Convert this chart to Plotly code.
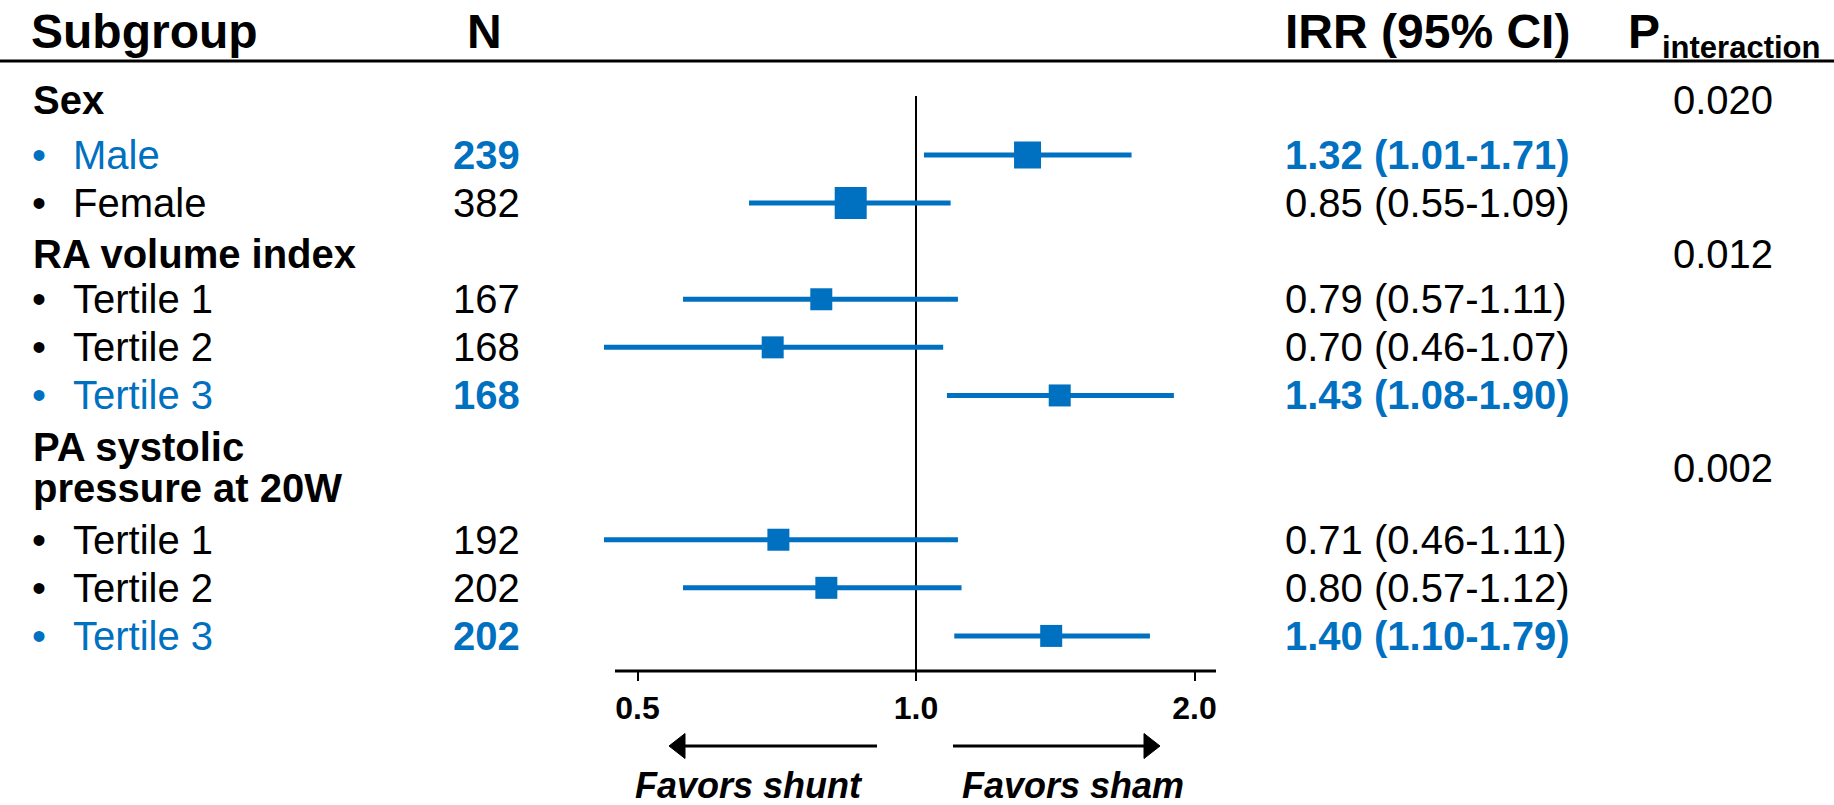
import plotly.graph_objects as go

# ---------------- data ----------------
subgroups = ["Male", "Female", "Tertile 1", "Tertile 2", "Tertile 3",
             "Tertile 1", "Tertile 2", "Tertile 3"]
n_values = [239, 382, 167, 168, 168, 192, 202, 202]
irr = [1.32, 0.85, 0.79, 0.70, 1.43, 0.71, 0.80, 1.40]
ci_low = [1.02, 0.66, 0.56, 0.46, 1.08, 0.46, 0.56, 1.10]
ci_high = [1.71, 1.09, 1.11, 1.07, 1.90, 1.11, 1.12, 1.79]
irr_text = ["1.32 (1.01-1.71)", "0.85 (0.55-1.09)", "0.79 (0.57-1.11)",
            "0.70 (0.46-1.07)", "1.43 (1.08-1.90)", "0.71 (0.46-1.11)",
            "0.80 (0.57-1.12)", "1.40 (1.10-1.79)"]
significant = [True, False, False, False, True, False, False, True]
row_pos = [1, 2, 4, 5, 6, 9, 10, 11]
group_labels = ["Sex", "RA volume index", "PA systolic\npressure at 20W"]
group_rows = [-0.15, 3.05, 7.5]
p_interaction = ["0.020", "0.012", "0.002"]
tick_vals = [0.5, 1.0, 2.0]
tick_labels = ["0.5", "1.0", "2.0"]
header_labels = ["Subgroup", "N", "IRR (95% CI)"]
favor_labels = ["Favors shunt", "Favors sham"]

# ---------------- styles ----------------
W, H = 1834, 805
BLUE = "#0070C0"
FONT = "Liberation Sans, Arial, Helvetica, sans-serif"
marker_sizes = [27, 32, 22, 22, 22, 22, 22, 22]


def px(x):
    return x / W


def py(y):
    return 1 - y / H


ROW_TOP, ROW_BOTTOM = -2.223, 14.516  # row units at top/bottom of figure
X_LEFT_PX, X_RIGHT_PX = 580, 1250     # plot-area extent in pixels
ONE_PX, PX_PER_LOG10 = 916, 278.5 / 0.30103

fig = go.Figure()

# reference line at IRR = 1
fig.add_trace(go.Scatter(
    x=[1, 1], y=[-0.227, 11.73], mode="lines",
    line=dict(color="black", width=2), hoverinfo="skip", showlegend=False))

# estimates with CI
fig.add_trace(go.Scatter(
    x=irr, y=row_pos, mode="markers",
    marker=dict(symbol="square", size=marker_sizes, color=BLUE, opacity=1,
                line=dict(width=0)),
    error_x=dict(type="data", symmetric=False,
                 array=[h - m for h, m in zip(ci_high, irr)],
                 arrayminus=[m - l for m, l in zip(irr, ci_low)],
                 color=BLUE, thickness=5, width=0),
    showlegend=False))

ann = []


def txt(text, x, y, size, color="black", bold=False, italic=False,
        xanchor="left", yref="paper"):
    ann.append(dict(text=text, x=x, y=y, xref="paper", yref=yref,
                    xanchor=xanchor, yanchor="middle", showarrow=False,
                    font=dict(family=FONT, size=size, color=color,
                              weight="bold" if bold else "normal",
                              style="italic" if italic else "normal")))


# column headers
txt(header_labels[0], px(29), py(31.6), 48, bold=True)
txt(header_labels[1], px(484), py(31.6), 48, bold=True, xanchor="center")
txt(header_labels[2], px(1283), py(31.6), 48, bold=True)
txt("P", px(1626), py(31.6), 48, bold=True)
txt("interaction", px(1660), py(48), 31, bold=True)

# group headers and p-values
for g, r, p in zip(group_labels, group_rows, p_interaction):
    lines = g.split("\n")
    n = len(lines)
    for i, line in enumerate(lines):
        shift = (i - (n - 1) / 2) * 0.855
        txt(line, px(31), r + shift, 40, bold=True, yref="y")
    txt(p, px(1723), r, 40, xanchor="center", yref="y")

# subgroup rows
for name, n, t, sig, r in zip(subgroups, n_values, irr_text, significant, row_pos):
    col = BLUE if sig else "black"
    txt("•", px(38.5), r, 40, color=col, xanchor="center", yref="y")
    txt(name, px(71), r, 40, color=col, yref="y")
    txt(str(n), px(522), r, 40, color=col, bold=sig, xanchor="right", yref="y")
    txt(t, px(1283), r, 40, color=col, bold=sig, yref="y")

# favors labels
txt(favor_labels[0], px(748.6), py(785), 36, bold=True, italic=True, xanchor="center")
txt(favor_labels[1], px(1072.6), py(785), 36, bold=True, italic=True, xanchor="center")

shapes = [
    dict(type="line", xref="paper", yref="paper", x0=0, x1=1,
         y0=py(61), y1=py(61), line=dict(color="black", width=3)),
    # x axis baseline
    dict(type="line", xref="paper", yref="paper", x0=px(615), x1=px(1216),
         y0=py(671), y1=py(671), line=dict(color="black", width=3)),
    # left arrow
    dict(type="line", xref="paper", yref="paper", x0=px(877), x1=px(683),
         y0=py(746), y1=py(746), line=dict(color="black", width=3)),
    dict(type="path", xref="paper", yref="paper",
         path=f"M {px(669)},{py(746)} L {px(685)},{py(733.5)} L {px(685)},{py(758.5)} Z",
         fillcolor="black", line=dict(color="black", width=1)),
    # right arrow
    dict(type="line", xref="paper", yref="paper", x0=px(953), x1=px(1146),
         y0=py(746), y1=py(746), line=dict(color="black", width=3)),
    dict(type="path", xref="paper", yref="paper",
         path=f"M {px(1160)},{py(746)} L {px(1144)},{py(733.5)} L {px(1144)},{py(758.5)} Z",
         fillcolor="black", line=dict(color="black", width=1)),
]

x_range = [(X_LEFT_PX - ONE_PX) / PX_PER_LOG10, (X_RIGHT_PX - ONE_PX) / PX_PER_LOG10]

fig.update_layout(
    width=W, height=H, autosize=False,
    margin=dict(l=0, r=0, t=0, b=0, pad=0),
    paper_bgcolor="white", plot_bgcolor="white",
    font=dict(family=FONT, color="black"),
    xaxis=dict(type="log", range=x_range,
               domain=[X_LEFT_PX / W, X_RIGHT_PX / W], anchor="free", position=py(671),
               showline=False,
               ticks="outside", ticklen=9, tickwidth=2, tickcolor="black",
               tickvals=tick_vals, ticktext=tick_labels,
               tickfont=dict(family=FONT, size=32, color="black", weight="bold"),
               showgrid=False, zeroline=False, fixedrange=True),
    yaxis=dict(range=[ROW_BOTTOM, ROW_TOP], domain=[0, 1], visible=False,
               showgrid=False, zeroline=False, fixedrange=True),
    annotations=ann, shapes=shapes, showlegend=False,
)

fig.write_html("out.html", config={"displayModeBar": False},
               post_script="document.body.style.margin='0';")
